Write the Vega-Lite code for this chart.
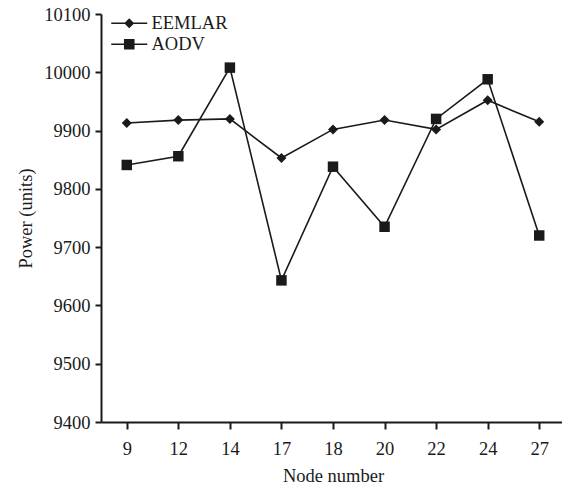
{
  "$schema": "https://vega.github.io/schema/vega-lite/v6.json",
  "width": 464,
  "height": 408,
  "autosize": {"type": "none"},
  "padding": {"left": 101, "top": 14, "right": -3, "bottom": 67},
  "background": "white",
  "config": {
    "view": {"stroke": null},
    "font": "Liberation Serif",
    "axis": {
      "domainColor": "#1a1a1a",
      "domainWidth": 2,
      "tickColor": "#1a1a1a",
      "tickWidth": 2,
      "labelFontSize": 18.5,
      "titleFontSize": 18.5,
      "labelColor": "#1a1a1a",
      "titleColor": "#1a1a1a",
      "titleFontWeight": "normal",
      "grid": false
    }
  },
  "data": {
    "values": [
      {"node": 9, "series": "EEMLAR", "power": 9913},
      {"node": 12, "series": "EEMLAR", "power": 9918},
      {"node": 14, "series": "EEMLAR", "power": 9920},
      {"node": 17, "series": "EEMLAR", "power": 9853},
      {"node": 18, "series": "EEMLAR", "power": 9902},
      {"node": 20, "series": "EEMLAR", "power": 9918},
      {"node": 22, "series": "EEMLAR", "power": 9902},
      {"node": 24, "series": "EEMLAR", "power": 9952},
      {"node": 27, "series": "EEMLAR", "power": 9915},
      {"node": 9, "series": "AODV", "power": 9841},
      {"node": 12, "series": "AODV", "power": 9856},
      {"node": 14, "series": "AODV", "power": 10008},
      {"node": 17, "series": "AODV", "power": 9643},
      {"node": 18, "series": "AODV", "power": 9838},
      {"node": 20, "series": "AODV", "power": 9735},
      {"node": 22, "series": "AODV", "power": 9920},
      {"node": 24, "series": "AODV", "power": 9988},
      {"node": 27, "series": "AODV", "power": 9720}
    ]
  },
  "encoding": {
    "x": {
      "field": "node",
      "type": "ordinal",
      "scale": {"domain": [9, 12, 14, 17, 18, 20, 22, 24, 27], "padding": 0.5},
      "axis": {"title": "Node number", "labelAngle": 0, "tickSize": 7, "labelPadding": 10, "titlePadding": 9}
    },
    "y": {
      "field": "power",
      "type": "quantitative",
      "scale": {"domain": [9400, 10100], "nice": false, "zero": false},
      "axis": {
        "title": "Power (units)",
        "values": [9400, 9500, 9600, 9700, 9800, 9900, 10000, 10100],
        "format": "d",
        "tickSize": 6,
        "labelPadding": 5,
        "titlePadding": 8
      }
    }
  },
  "layer": [
    {
      "mark": {"type": "line", "color": "#1a1a1a", "strokeWidth": 1.6},
      "encoding": {"detail": {"field": "series"}}
    },
    {
      "mark": {"type": "point", "filled": true, "color": "#1a1a1a", "opacity": 1},
      "encoding": {
        "shape": {
          "field": "series",
          "type": "nominal",
          "scale": {"domain": ["EEMLAR", "AODV"], "range": ["diamond", "square"]},
          "legend": null
        },
        "size": {
          "field": "series",
          "type": "nominal",
          "scale": {"domain": ["EEMLAR", "AODV"], "range": [100, 110]},
          "legend": null
        }
      }
    },
    {
      "mark": {"type": "point", "filled": true, "color": "#1a1a1a", "opacity": 0, "size": 100},
      "encoding": {
        "shape": {
          "field": "series",
          "type": "nominal",
          "scale": {
            "domain": ["EEMLAR", "AODV"],
            "range": [
              "M-3.6,-0.15H3.6V0.15H-3.6ZM0,-1L1,0L0,1L-1,0Z",
              "M-3.6,-0.15H3.6V0.15H-3.6ZM-1.06,-1.06H1.06V1.06H-1.06Z"
            ]
          },
          "legend": {
            "title": null,
            "orient": "none",
            "legendX": 3,
            "legendY": 0,
            "padding": 0,
            "labelFontSize": 18.5,
            "labelColor": "#1a1a1a",
            "symbolSize": 100,
            "symbolOpacity": 1,
            "symbolFillColor": "#1a1a1a",
            "symbolStrokeColor": "#1a1a1a",
            "symbolStrokeWidth": 0,
            "symbolOffset": 16,
            "labelOffset": 13,
            "rowPadding": 2
          }
        }
      }
    }
  ],
  "resolve": {"scale": {"shape": "independent", "size": "independent"}}
}
